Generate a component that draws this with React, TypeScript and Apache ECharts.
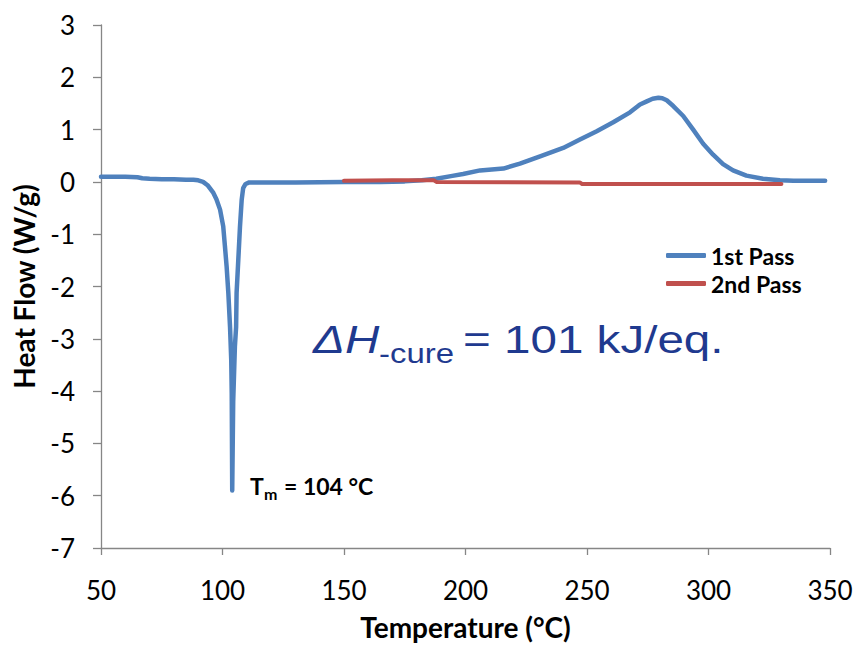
import React, { useEffect, useRef } from "react";
import * as echarts from "echarts";

// DSC trace, first heating pass (temperature in °C, heat flow in W/g)
const temps1 = [
  50, 55, 60, 65, 67, 70, 75, 80, 85, 88,
  90, 92, 94, 96.1, 97.5, 99, 100.3, 101, 101.7, 102.4,
  103.1, 103.6, 103.8, 104, 104.4, 105.1, 105.6, 105.8, 106.5, 107.2,
  107.9, 108.5, 109.5, 111, 115, 130, 150, 165, 175, 182,
  188, 194, 199, 206, 215.6, 222.4, 230.7, 240.2, 247.1, 254,
  260.8, 267.7, 271.8, 274.6, 277, 279.4, 281, 282.8, 285.5, 289.6,
  293.7, 297.8, 301.9, 306, 310.1, 315.6, 322.4, 329.4, 335, 348,
];
const heat1 = [
  0.1, 0.1, 0.1, 0.09, 0.07, 0.06, 0.05, 0.05, 0.04, 0.04,
  0.03, 0.0, -0.07, -0.2, -0.33, -0.53, -0.85, -1.23, -1.62, -2.12,
  -2.77, -3.41, -4.05, -5.9, -4.2, -3.15, -2.77, -2.12, -1.49, -0.85,
  -0.34, -0.12, -0.04, -0.01, -0.01, -0.01, 0.0, 0.0, 0.01, 0.03,
  0.06, 0.11, 0.15, 0.22, 0.255, 0.35, 0.49, 0.65, 0.81, 0.97,
  1.14, 1.33, 1.48, 1.54, 1.59, 1.61, 1.6, 1.56, 1.45, 1.26,
  1.0, 0.73, 0.52, 0.34, 0.22, 0.12, 0.06, 0.03, 0.02, 0.02,
];

// Second heating pass
const temps2 = [150, 170, 187, 188, 247, 248, 330];
const heat2 = [0.02, 0.03, 0.03, 0.0, -0.01, -0.04, -0.04];

const seriesNames = ["1st Pass", "2nd Pass"];
const seriesColors = ["#4F81BD", "#C0504D"];

const meltTemp = 104;
const cureEnthalpy = 101;

const zip = (xs: number[], ys: number[]) => xs.map((x, i) => [x, ys[i]]);

const axisColor = "#868686";
const uiFont = "Lato";

export default function App() {
  const ref = useRef<HTMLDivElement>(null);

  useEffect(() => {
    document.body.style.margin = "0";
    if (!ref.current) return;
    const chart = echarts.init(ref.current, undefined, { renderer: "svg" });

    const annoColor = "#1F3A8F";
    const mainSize = 39;
    const subSize = 27;
    const stretch = 1.22;
    // "central" baseline sits roughly 0.35em above the alphabetic one
    const mid = (baseline: number, size: number) => baseline - 0.35 * size;

    chart.setOption({
      animation: false,
      backgroundColor: "#ffffff",
      grid: { left: 101, right: 28, top: 25, bottom: 99, containLabel: false },
      legend: {
        orient: "vertical",
        left: 666,
        top: 244,
        padding: 0,
        itemWidth: 40,
        itemHeight: 5,
        itemGap: 5,
        icon: "roundRect",
        textStyle: {
          fontFamily: uiFont,
          fontWeight: "bold",
          fontSize: 23,
          lineHeight: 23,
          color: "#000",
        },
        data: seriesNames,
      },
      xAxis: {
        type: "value",
        min: 50,
        max: 350,
        interval: 50,
        name: "Temperature (°C)",
        nameLocation: "middle",
        nameGap: 65,
        nameTextStyle: {
          fontFamily: uiFont,
          fontWeight: "bold",
          fontSize: 28,
          color: "#000",
        },
        axisLine: { show: true, onZero: false, lineStyle: { color: axisColor, width: 1.3 } },
        axisTick: { show: true, inside: false, length: 7, lineStyle: { color: axisColor, width: 1.3 } },
        splitLine: { show: false },
        axisLabel: { fontFamily: uiFont, fontSize: 26, color: "#000", margin: 29 },
      },
      yAxis: {
        type: "value",
        min: -7,
        max: 3,
        interval: 1,
        name: "Heat Flow (W/g)",
        nameLocation: "middle",
        nameGap: 63,
        nameTextStyle: {
          fontFamily: uiFont,
          fontWeight: "bold",
          fontSize: 28,
          color: "#000",
        },
        axisLine: { show: true, onZero: false, lineStyle: { color: axisColor, width: 1.3 } },
        axisTick: { show: true, inside: false, length: 8, lineStyle: { color: axisColor, width: 1.3 } },
        splitLine: { show: false },
        axisLabel: { fontFamily: uiFont, fontSize: 26, color: "#000", margin: 26 },
      },
      series: [
        {
          name: seriesNames[0],
          type: "line",
          data: zip(temps1, heat1),
          showSymbol: false,
          symbol: "none",
          smooth: false,
          color: seriesColors[0],
          lineStyle: { color: seriesColors[0], width: 4.5, cap: "round", join: "round" },
          z: 2,
        },
        {
          name: seriesNames[1],
          type: "line",
          data: zip(temps2, heat2),
          showSymbol: false,
          symbol: "none",
          color: seriesColors[1],
          lineStyle: { color: seriesColors[1], width: 4, cap: "round", join: "round" },
          z: 3,
        },
      ],
      graphic: [
        // ΔH-cure annotation
        {
          type: "text",
          x: 313,
          y: mid(353, mainSize),
          scaleX: stretch,
          style: {
            text: "ΔH",
            font: `italic ${mainSize}px "Liberation Sans", Arial, sans-serif`,
            fill: annoColor,
            align: "left",
            verticalAlign: "middle",
          },
        },
        {
          type: "text",
          x: 379,
          y: mid(363, subSize),
          scaleX: stretch,
          style: {
            text: "-cure",
            font: `${subSize}px "Liberation Sans", Arial, sans-serif`,
            fill: annoColor,
            align: "left",
            verticalAlign: "middle",
          },
        },
        {
          type: "text",
          x: 463,
          y: mid(353, mainSize),
          scaleX: stretch,
          style: {
            text: `= ${cureEnthalpy} kJ/eq.`,
            font: `${mainSize}px "Liberation Sans", Arial, sans-serif`,
            fill: annoColor,
            align: "left",
            verticalAlign: "middle",
          },
        },
        // Melting point label
        {
          type: "text",
          x: 250,
          y: mid(494, 23),
          style: {
            text: "T",
            font: `bold 23px Lato, sans-serif`,
            fill: "#000",
            align: "left",
            verticalAlign: "middle",
          },
        },
        {
          type: "text",
          x: 264,
          y: mid(499, 16),
          style: {
            text: "m",
            font: `bold 16px Lato, sans-serif`,
            fill: "#000",
            align: "left",
            verticalAlign: "middle",
          },
        },
        {
          type: "text",
          x: 284,
          y: mid(494, 23),
          style: {
            text: `= ${meltTemp} °C`,
            font: `bold 23px Lato, sans-serif`,
            fill: "#000",
            align: "left",
            verticalAlign: "middle",
          },
        },
      ],
    });

    return () => chart.dispose();
  }, []);

  return <div ref={ref} style={{ width: 858, height: 647 }} />;
}
